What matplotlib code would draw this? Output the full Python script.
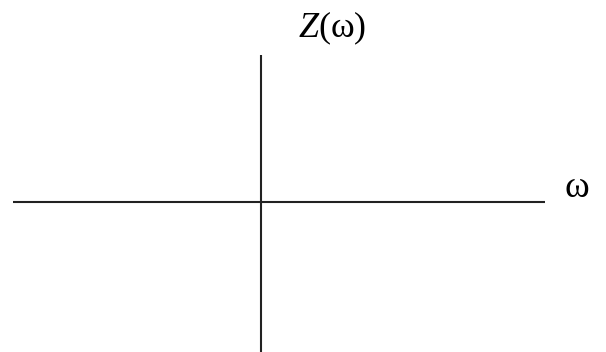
import matplotlib.pyplot as plt

plt.rcParams['mathtext.fontset'] = 'custom'
plt.rcParams['mathtext.rm'] = 'Liberation Serif'
plt.rcParams['mathtext.it'] = 'Liberation Serif:italic'

# axis extents (in a pixel-like frame of the picture)
x_range = [13, 545]
y_range = [55, 352]
origin = [261, 202]
x_label = 'ω'
y_label = r'$Z$(ω)'

fig = plt.figure(figsize=(6.06, 3.52), dpi=100)
ax = fig.add_axes([0, 0, 1, 1])
ax.set_xlim(0, 606)
ax.set_ylim(352, 0)
ax.axis('off')

ax.plot(x_range, [origin[1], origin[1]], color='#222222', lw=1.5, solid_capstyle='butt')
ax.plot([origin[0], origin[0]], y_range, color='#222222', lw=1.5, solid_capstyle='butt')

ax.text(332, 28, y_label, fontsize=26, family='Liberation Serif', ha='center', va='center')
ax.text(577, 188, x_label, fontsize=27, family='Liberation Serif', ha='center', va='center')

fig.savefig('out.png', dpi=100)
